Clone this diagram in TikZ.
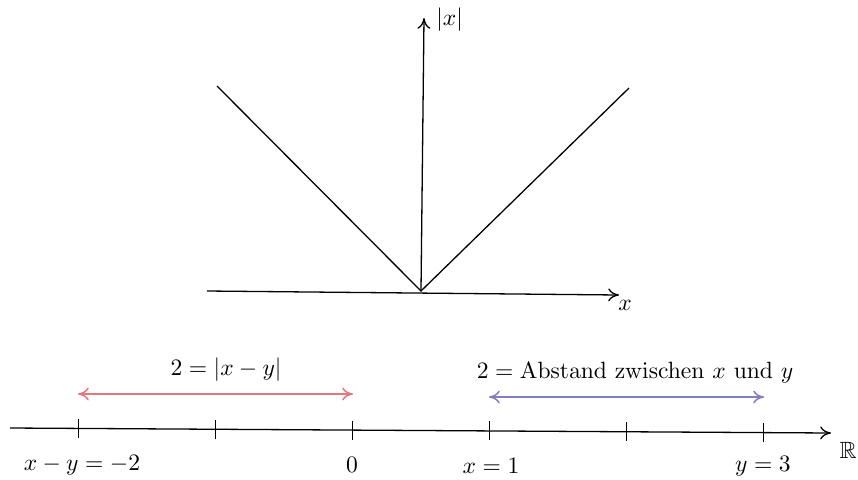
\documentclass[tikz,border=0pt]{standalone}
\usepackage{amssymb}
\usetikzlibrary{arrows.meta}
\definecolor{pinkred}{RGB}{228,118,128}
\definecolor{lilac}{RGB}{128,128,192}
\tikzset{
  axis/.style={line width=0.6pt,-{To[length=5pt,width=6pt]}},
  graphline/.style={line width=0.6pt},
  tick/.style={line width=0.45pt},
  dist/.style={line width=0.7pt,{To[length=5pt,width=6pt]}-{To[length=5pt,width=6pt]}},
  lbl/.style={scale=1.09},
}
\begin{document}
\begin{tikzpicture}[x=0.463pt,y=-0.463pt]
\useasboundingbox (0,0) rectangle (858,479);
% top graph
\coordinate (O) at (421,291);
\coordinate (yb) at (421,291);
\coordinate (yt) at (424,18);
\coordinate (xl) at (207,291);
\coordinate (xr) at (619,295);
\coordinate (L) at (217,86);
\coordinate (R) at (629,88);
\draw[axis] (yb) -- (yt);
\draw[axis] (xl) -- (xr);
\draw[graphline] (L) -- (O) -- (R);
\node[lbl,anchor=west] (absx) at (428,20) {$|x|$};
\node[lbl] (xlab) at (625,305) {$x$};
% number line
\coordinate (nl) at (10,428);
\coordinate (nr) at (831,433);
\draw[axis] (nl) -- (nr);
\foreach \i/\xx in {0/78,1/215,2/352,3/489,4/626,5/763}{
  \pgfmathsetmacro{\yy}{428+5*(\xx-10)/821}
  \coordinate (t\i) at (\xx,\yy);
  \draw[tick] ([yshift=9.5*0.463pt]t\i) -- ([yshift=-9.5*0.463pt]t\i);
}
\node[lbl] (lm2) at (82,465) {$x-y=-2$};
\node[lbl] (l0) at (352,465) {$0$};
\node[lbl] (l1) at (491,466) {$x=1$};
\node[lbl] (l3) at (763,466) {$y=3$};
\node[lbl] (RR) at (848,450) {$\mathbb{R}$};
% distance arrows
\coordinate (ra) at (78,394);
\coordinate (rb) at (353,394);
\draw[dist,pinkred] (ra) -- (rb);
\node[lbl] (rlab) at (226,370) {$2=|x-y|$};
\coordinate (ba) at (489,397);
\coordinate (bb) at (764,397);
\draw[dist,lilac] (ba) -- (bb);
\node[lbl] (blab) at (635,373) {$2=\mathrm{Abstand\ zwischen\ }x\mathrm{\ und\ }y$};
\end{tikzpicture}
\end{document}
